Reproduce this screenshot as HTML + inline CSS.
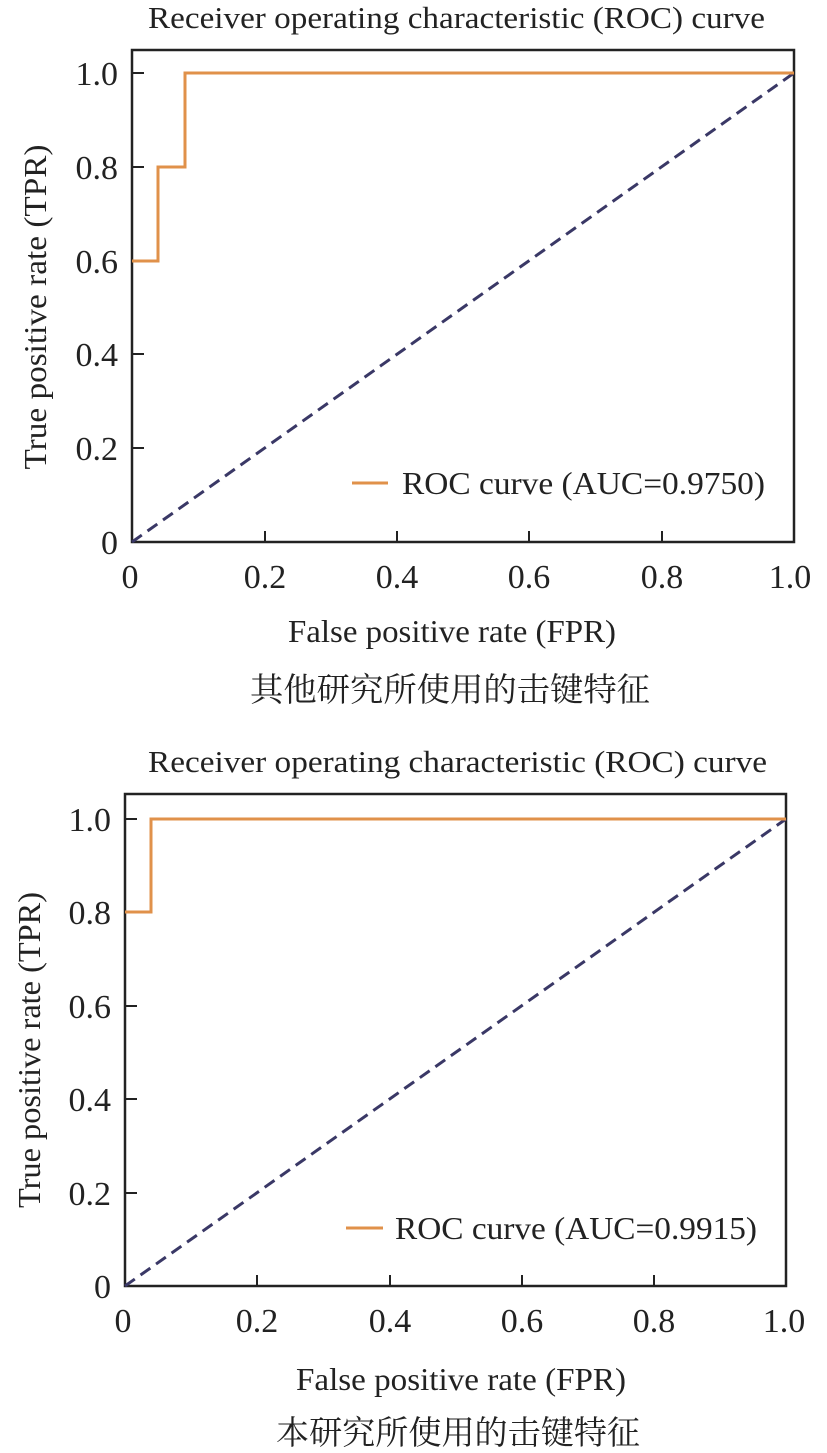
<!DOCTYPE html>
<html><head><meta charset="utf-8"><style>
html,body{margin:0;padding:0;background:#fff;}
svg{display:block;}
text{font-family:"Liberation Serif","Noto Serif CJK SC",serif;fill:#222;}
</style></head><body>
<svg width="827" height="1453" viewBox="0 0 827 1453" xmlns="http://www.w3.org/2000/svg">
<!-- Top chart -->
<text x="148" y="28" font-size="31" textLength="617" lengthAdjust="spacingAndGlyphs">Receiver operating characteristic (ROC) curve</text>
<rect x="132" y="50" width="662" height="492" fill="none" stroke="#222" stroke-width="2.5"/>
<g stroke="#222" stroke-width="2">
<line x1="132" y1="73" x2="144" y2="73"/><line x1="132" y1="167" x2="144" y2="167"/><line x1="132" y1="261" x2="144" y2="261"/><line x1="132" y1="354" x2="144" y2="354"/><line x1="132" y1="448" x2="144" y2="448"/>
<line x1="265" y1="542" x2="265" y2="531"/><line x1="397" y1="542" x2="397" y2="531"/><line x1="529" y1="542" x2="529" y2="531"/><line x1="662" y1="542" x2="662" y2="531"/>
</g>
<g font-size="34" text-anchor="end">
<text x="118" y="85">1.0</text><text x="118" y="179">0.8</text><text x="118" y="273">0.6</text><text x="118" y="366">0.4</text><text x="118" y="460">0.2</text><text x="118" y="554">0</text>
</g>
<g font-size="34" text-anchor="middle">
<text x="130" y="588">0</text><text x="265" y="588">0.2</text><text x="397" y="588">0.4</text><text x="529" y="588">0.6</text><text x="662" y="588">0.8</text><text x="790" y="588">1.0</text>
</g>
<text x="288" y="642" font-size="32" textLength="328" lengthAdjust="spacingAndGlyphs">False positive rate (FPR)</text>
<text transform="translate(46,307) rotate(-90)" font-size="32" text-anchor="middle" textLength="325" lengthAdjust="spacingAndGlyphs">True positive rate (TPR)</text>
<text x="250" y="701" font-size="33" textLength="400" lengthAdjust="spacingAndGlyphs">其他研究所使用的击键特征</text>
<line x1="132" y1="542" x2="794" y2="73" stroke="#3a3866" stroke-width="3" stroke-dasharray="12,7"/>
<polyline points="132,261 158,261 158,167 185,167 185,73 794,73" fill="none" stroke="#e0914a" stroke-width="3"/>
<line x1="352" y1="483" x2="388" y2="483" stroke="#e0914a" stroke-width="3"/>
<text x="402" y="494" font-size="32" textLength="363" lengthAdjust="spacingAndGlyphs">ROC curve (AUC=0.9750)</text>

<!-- Bottom chart -->
<text x="148" y="772" font-size="31" textLength="619" lengthAdjust="spacingAndGlyphs">Receiver operating characteristic (ROC) curve</text>
<rect x="125" y="794" width="661" height="492" fill="none" stroke="#222" stroke-width="2.5"/>
<g stroke="#222" stroke-width="2">
<line x1="125" y1="819" x2="137" y2="819"/><line x1="125" y1="912" x2="137" y2="912"/><line x1="125" y1="1006" x2="137" y2="1006"/><line x1="125" y1="1099" x2="137" y2="1099"/><line x1="125" y1="1193" x2="137" y2="1193"/>
<line x1="257" y1="1286" x2="257" y2="1275"/><line x1="390" y1="1286" x2="390" y2="1275"/><line x1="522" y1="1286" x2="522" y2="1275"/><line x1="654" y1="1286" x2="654" y2="1275"/>
</g>
<g font-size="34" text-anchor="end">
<text x="111" y="831">1.0</text><text x="111" y="924">0.8</text><text x="111" y="1018">0.6</text><text x="111" y="1111">0.4</text><text x="111" y="1205">0.2</text><text x="111" y="1298">0</text>
</g>
<g font-size="34" text-anchor="middle">
<text x="123" y="1332">0</text><text x="257" y="1332">0.2</text><text x="390" y="1332">0.4</text><text x="522" y="1332">0.6</text><text x="654" y="1332">0.8</text><text x="784" y="1332">1.0</text>
</g>
<text x="296" y="1390" font-size="32" textLength="330" lengthAdjust="spacingAndGlyphs">False positive rate (FPR)</text>
<text transform="translate(40,1050) rotate(-90)" font-size="32" text-anchor="middle" textLength="316" lengthAdjust="spacingAndGlyphs">True positive rate (TPR)</text>
<text x="276" y="1444" font-size="33" textLength="364" lengthAdjust="spacingAndGlyphs">本研究所使用的击键特征</text>
<line x1="125" y1="1286" x2="786" y2="819" stroke="#3a3866" stroke-width="3" stroke-dasharray="12,7"/>
<polyline points="125,912 151,912 151,819 786,819" fill="none" stroke="#e0914a" stroke-width="3"/>
<line x1="346" y1="1228" x2="383" y2="1228" stroke="#e0914a" stroke-width="3"/>
<text x="395" y="1239" font-size="32" textLength="362" lengthAdjust="spacingAndGlyphs">ROC curve (AUC=0.9915)</text>
</svg>
</body></html>
